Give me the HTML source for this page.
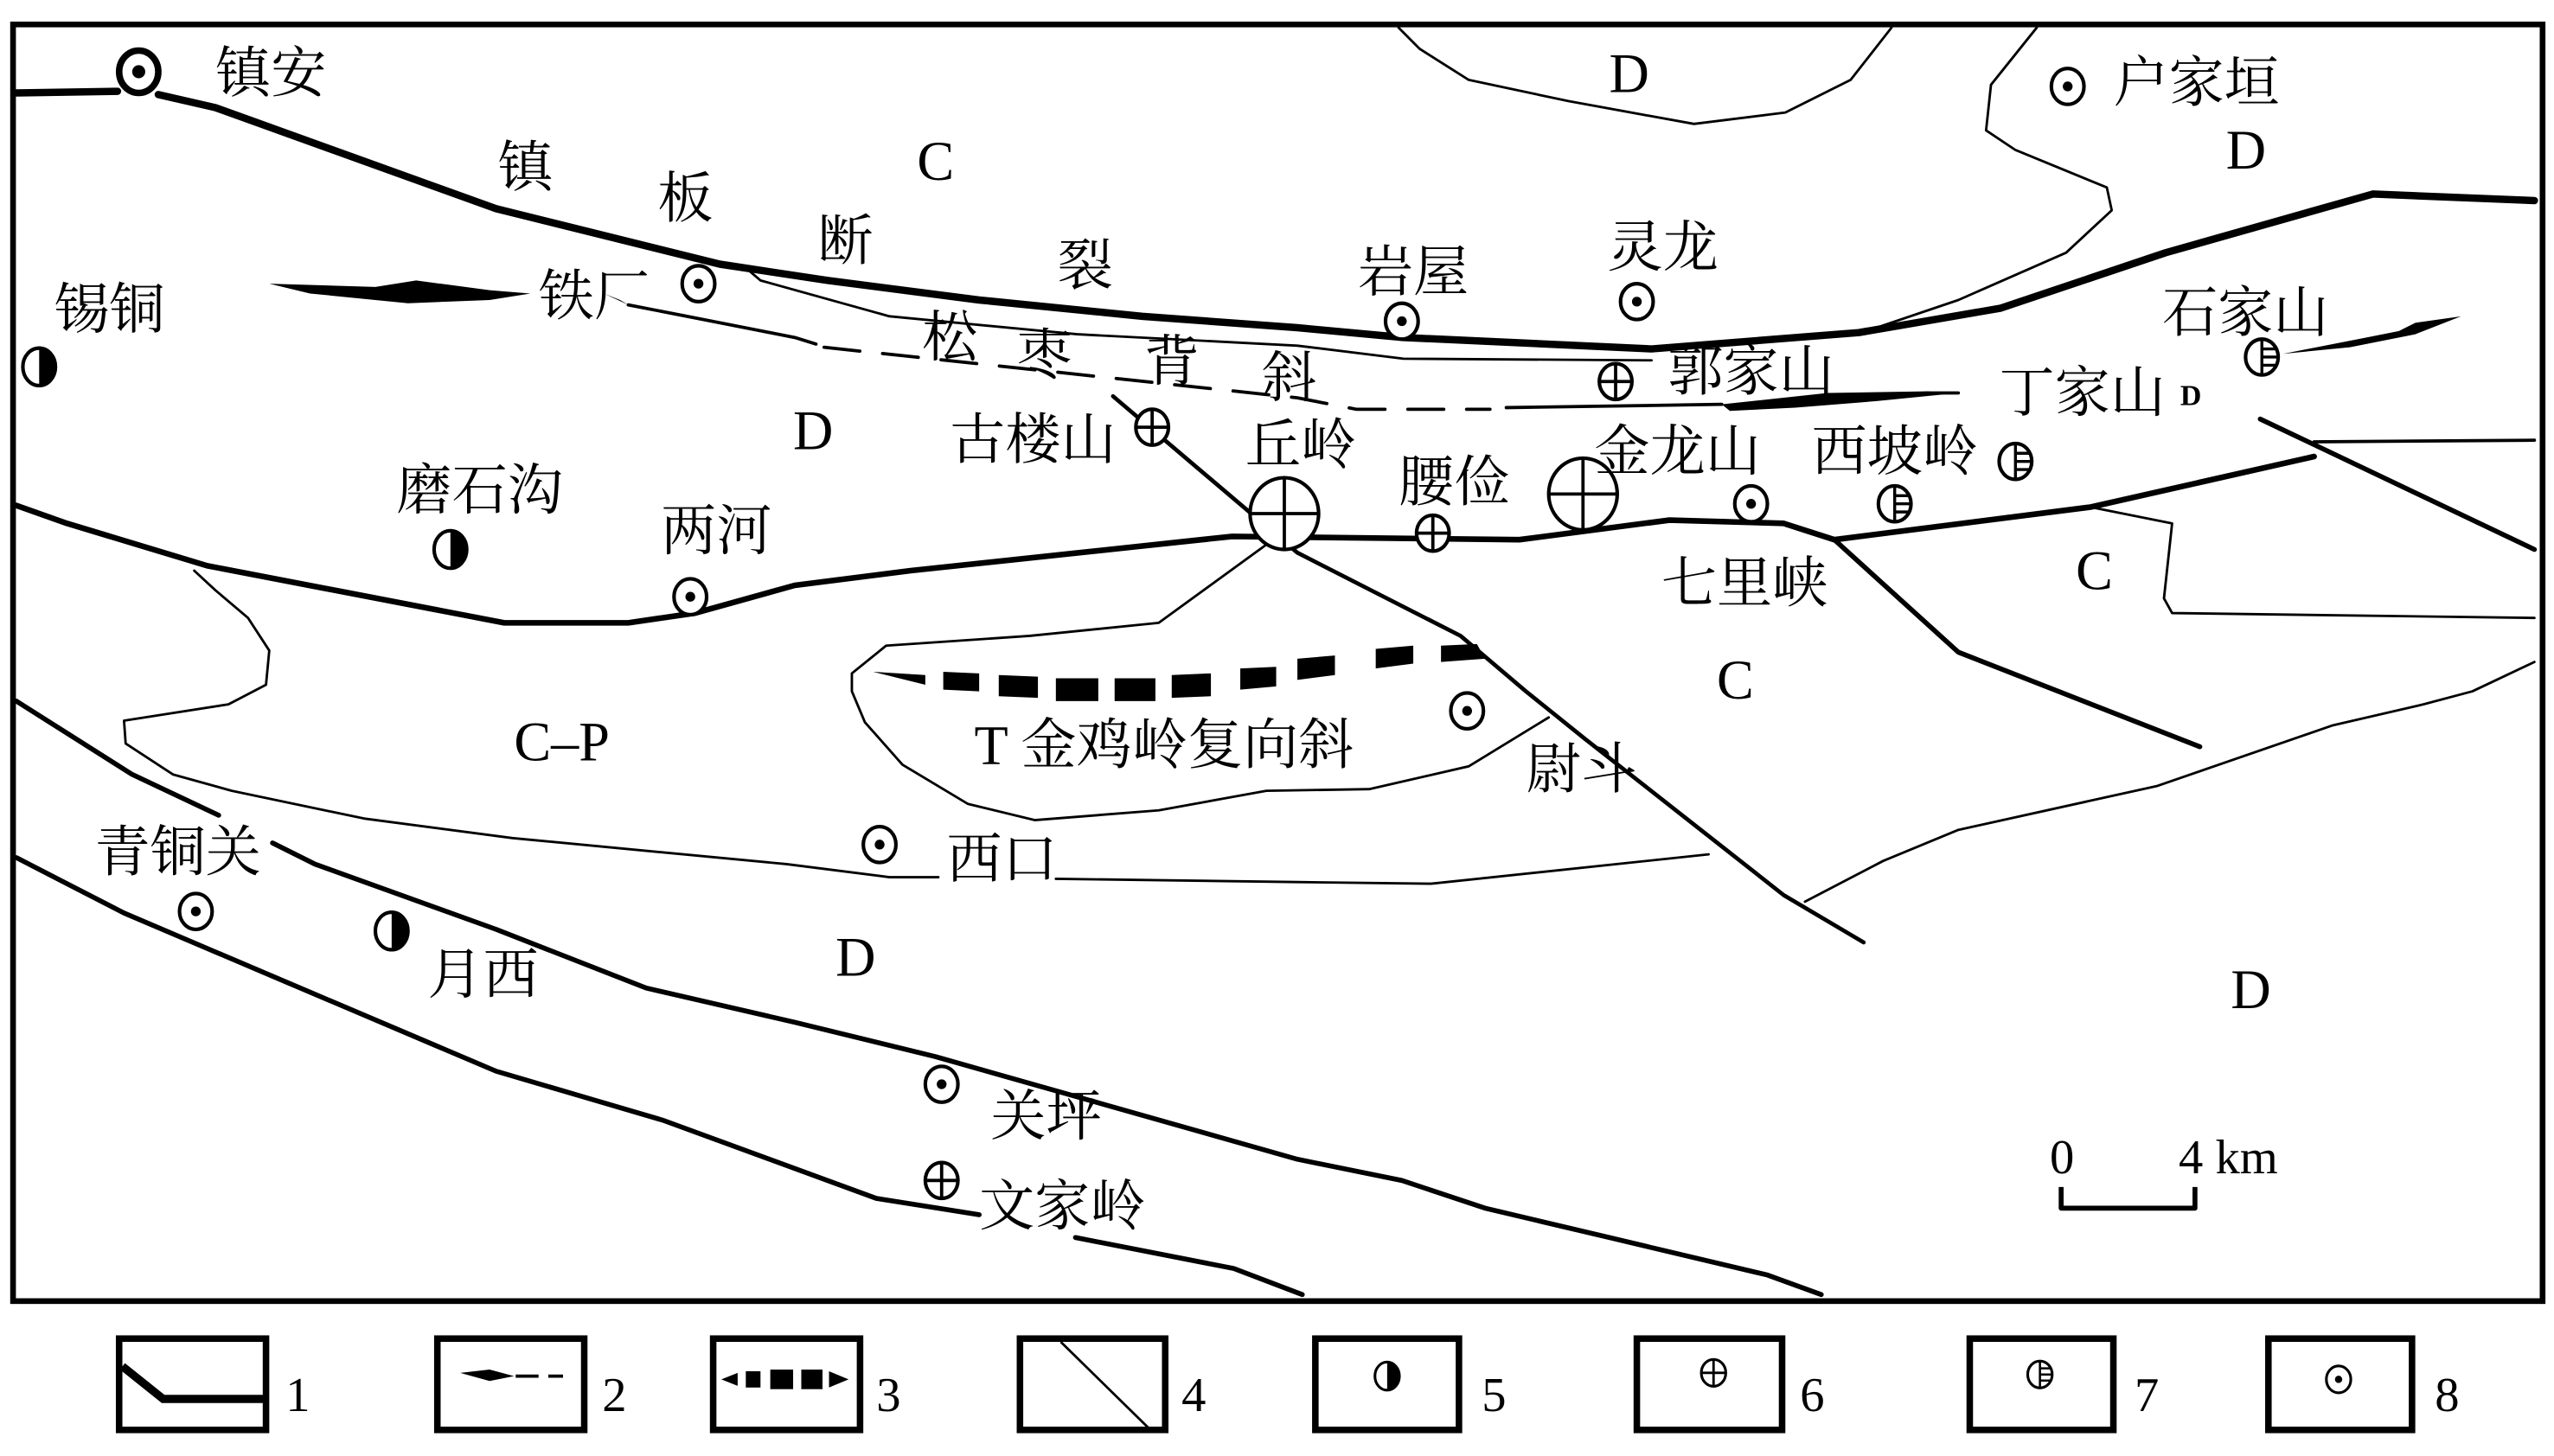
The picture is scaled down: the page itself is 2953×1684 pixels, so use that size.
<!DOCTYPE html>
<html><head><meta charset="utf-8"><style>
html,body{margin:0;padding:0;background:#fff;}
svg{display:block;}
text{font-family:"Liberation Serif","Noto Serif CJK SC",serif;fill:#000;}
</style></head><body>
<svg width="2953" height="1684" viewBox="0 0 1565 893" preserveAspectRatio="none" xmlns="http://www.w3.org/2000/svg">
<defs>
<g id="s8"><ellipse cx="0" cy="0" rx="10" ry="11" fill="#fff" stroke="#000" stroke-width="2.2"/><circle r="3" fill="#000"/></g>
<g id="s5"><ellipse rx="10" ry="11.5" fill="#fff" stroke="#000" stroke-width="2.2"/><path d="M0,-11.5 A10,11.5 0 0 1 0,11.5 Z" fill="#000"/></g>
<g id="s6"><ellipse rx="10" ry="11" fill="#fff" stroke="#000" stroke-width="2.2"/><path d="M-10,0H10M0,-11V11" stroke="#000" stroke-width="2"/></g>
<g id="s7"><ellipse rx="10" ry="11" fill="#fff" stroke="#000" stroke-width="2.2"/><path d="M0,-11V11M0,-5H9M0,0H10M0,5H9" stroke="#000" stroke-width="1.8"/></g>
</defs>
<rect x="8" y="15" width="1550" height="783" fill="#fff" stroke="#000" stroke-width="3.5"/>
<g fill="none" stroke="#000" stroke-linejoin="round" stroke-linecap="round">
<!-- top thin boundaries -->
<path d="M857,17 L870,30 L900,49 L961,62 L1038,76 L1094,69 L1134,49 L1159,17" stroke-width="1.5"/>
<path d="M1248,17 L1220,52 L1217,80 L1235,92 L1291,115 L1294,129 L1266,155 L1200,184 L1141,204" stroke-width="1.5"/>
<!-- main top fault -->
<path d="M10,57 L72,56 M97,58 L132,66 L304,128 L441,162 L507,172 L600,184 L700,194 L795,201 L860,207 L1012,214 L1139,204 L1226,189 L1327,155 L1454,119 L1553,123" stroke-width="4.5"/>
<!-- anticline thin upper -->
<path d="M459,166 L466,172 L545,194 L660,205 L795,212 L860,220 L1012,221" stroke-width="1.5"/>
<!-- anticline lower line -->
<path d="M385,187 L421,194 L487,207 L500,211" stroke-width="2"/>
<path d="M505,213 L795,244 L831,251 L913,251" stroke-width="2" stroke-dasharray="22,14"/>
<path d="M923,250 L1055,248" stroke-width="2"/>
<path d="M1180,241 L1200,241" stroke-width="2"/>
<!-- second thick fault -->
<path d="M10,310 L41,321 L127,347 L309,382 L385,382 L426,376 L487,359 L558,350 L755,329 L931,331 L1023,319 L1093,321 L1124,331 M1124,331 L1281,311 L1418,280" stroke-width="3.5"/>
<path d="M1124,331 L1200,400 L1348,458" stroke-width="3"/>
<path d="M1385,257 L1553,337" stroke-width="3"/>
<path d="M1418,271 L1553,270" stroke-width="2"/>
<path d="M1281,311 L1331,321 L1326,367 L1331,376 L1553,379" stroke-width="1.5"/>
<path d="M1553,406 L1515,424 L1485,432 L1429,445 L1322,482 L1200,509 L1154,528 L1106,553" stroke-width="1.5"/>
<!-- diagonal fault -->
<path d="M682,243 L795,339 L895,390 L935,424 L971,453 L1032,501 L1093,549 L1142,578" stroke-width="2.5"/>
<!-- syncline outline -->
<path d="M800,330 L776,334 L710,382 L631,390 L543,396 L522,413 L522,424 L530,443 L553,469 L593,493 L634,503 L710,497 L776,485 L839,484 L900,470 L949,440" stroke-width="1.5"/>
<!-- C-P boundary -->
<path d="M119,350 L132,362 L152,379 L165,399 L163,420 L140,432 L76,442 L77,456 L106,475 L142,485 L223,502 L314,514 L482,530 L545,538 L575,538 M647,539 L795,541 L877,542 L1047,524" stroke-width="1.5"/>
<!-- lower faults -->
<path d="M10,430 L81,475 L134,500 M167,517 L193,530 L304,570 L396,606 L487,627 L573,648 L795,711 L859,724 L910,741 L986,759 L1083,782 L1116,794" stroke-width="3"/>
<path d="M10,526 L76,560 L177,603 L304,657 L406,687 L537,735 L600,745 M659,759 L756,778 L798,794" stroke-width="3"/>
<!-- scale bar -->
<path d="M1263,728 V741 H1345 V728" stroke-width="3" stroke-linecap="butt"/>
</g>
<!-- lenses -->
<path d="M165,174 L230,176 L255,172 L300,178 L325,180 L300,184 L250,186 L190,180 Z" fill="#000"/>
<path d="M1055,248 L1120,241 L1180,240 L1200,241 L1150,246 L1100,250 L1060,252 Z" fill="#000"/>
<path d="M1399,217 L1450,207 L1470,203 L1480,198 L1508,194 L1480,205 L1440,213 Z" fill="#000"/>
<path d="M385,187 L370,180 L380,184 Z" fill="#000"/>
<!-- syncline dashes -->
<g fill="#000">
<polygon points="535,412 567,414 567,420"/>
<polygon points="578,412 600,413 600,424 578,423"/>
<polygon points="612,414 636,415 636,428 612,427"/>
<polygon points="647,416 673,416 673,430 647,430"/>
<polygon points="683,416 708,416 708,430 683,430"/>
<polygon points="718,414 742,413 742,427 718,428"/>
<polygon points="760,410 782,409 782,421 760,423"/>
<polygon points="795,404 818,402 818,414 795,417"/>
<polygon points="843,398 866,396 866,407 843,410"/>
<polygon points="883,396 905,395 910,404 883,406"/>
</g>
<!-- markers -->
<g><ellipse cx="85" cy="44" rx="12" ry="13" fill="#fff" stroke="#000" stroke-width="4"/><circle cx="85" cy="44" r="4" fill="#000"/></g>
<use href="#s8" x="428" y="174"/><use href="#s8" x="423" y="366"/><use href="#s8" x="859" y="197"/>
<use href="#s8" x="1003" y="185"/><use href="#s8" x="1073" y="309"/><use href="#s8" x="1267" y="53"/>
<use href="#s8" x="899" y="436"/><use href="#s8" x="539" y="518"/><use href="#s8" x="120" y="559"/><use href="#s8" x="577" y="665"/>
<use href="#s5" x="24" y="225"/><use href="#s5" x="276" y="337"/><use href="#s5" x="240" y="571"/>
<use href="#s6" x="706" y="262"/><use href="#s6" x="878" y="327"/><use href="#s6" x="990" y="234"/><use href="#s6" x="577" y="724"/>
<g fill="#fff" stroke="#000" stroke-width="2.2"><ellipse cx="787" cy="315" rx="21" ry="22"/><ellipse cx="970" cy="303" rx="21" ry="22"/></g>
<path d="M766,315H808M787,293V337M949,303H991M970,281V325" stroke="#000" stroke-width="2"/>
<use href="#s7" x="1161" y="309"/><use href="#s7" x="1235" y="283"/><use href="#s7" x="1386" y="219"/>
<!-- labels -->
<g font-size="34" dominant-baseline="central">
<text x="132" y="45">镇安</text>
<text x="305" y="103">镇</text><text x="403" y="122">板</text><text x="501" y="148">断</text><text x="648" y="163">裂</text>
<text x="562" y="99">C</text><text x="986" y="45">D</text><text x="1295" y="51">户家垣</text><text x="1364" y="92">D</text>
<text x="985" y="152">灵龙</text><text x="832" y="167">岩屋</text><text x="1325" y="192">石家山</text>
<text x="33" y="190">锡铜</text><text x="330" y="182">铁厂</text>
<text x="565" y="207">松</text><text x="623" y="218">枣</text><text x="701" y="222">背</text><text x="773" y="232">斜</text>
<text x="1022" y="228">郭家山</text><text x="1225" y="241">丁家山</text>
<text x="1336" y="243" font-size="18" font-weight="bold">D</text>
<text x="486" y="264">D</text><text x="582" y="270">古楼山</text><text x="763" y="273">丘岭</text>
<text x="977" y="277">金龙山</text><text x="1110" y="277">西坡岭</text><text x="857" y="296">腰俭</text>
<text x="243" y="301">磨石沟</text><text x="405" y="326">两河</text><text x="1018" y="358">七里峡</text>
<text x="1272" y="350">C</text><text x="1052" y="417">C</text><text x="315" y="455">C–P</text>
<text x="597" y="457">T 金鸡岭复向斜</text><text x="935" y="472">尉斗</text><text x="580" y="527">西口</text>
<text x="58" y="523">青铜关</text><text x="262" y="598">月西</text><text x="512" y="587">D</text><text x="1367" y="607">D</text>
<text x="607" y="685">关坪</text><text x="600" y="740">文家岭</text>
<text x="1256" y="710" font-size="30">0</text><text x="1335" y="710" font-size="30">4 km</text>
</g>
<!-- legend -->
<g fill="none" stroke="#000" stroke-width="4">
<rect x="73" y="821" width="90" height="56"/><rect x="268" y="821" width="90" height="56"/>
<rect x="437" y="821" width="90" height="56"/><rect x="625" y="821" width="89" height="56"/>
<rect x="806" y="821" width="88" height="56"/><rect x="1003" y="821" width="89" height="56"/>
<rect x="1207" y="821" width="88" height="56"/><rect x="1390" y="821" width="88" height="56"/>
</g>
<path d="M75,838 L100,858 L163,858" fill="none" stroke="#000" stroke-width="5"/>
<path d="M282,842 L300,840 L315,844 L300,847 Z" fill="#000"/><path d="M316,844H330M336,844H345" stroke="#000" stroke-width="2"/>
<g fill="#000"><polygon points="442,846 452,842 452,850"/><rect x="457" y="841" width="9" height="10"/><rect x="472" y="840" width="14" height="12"/><rect x="491" y="840" width="13" height="12"/><polygon points="508,841 520,846 508,851"/></g>
<path d="M650,823 L705,877" stroke="#000" stroke-width="1.5"/>
<g transform="translate(850,844) scale(0.75)"><use href="#s5"/></g>
<g transform="translate(1050,842) scale(0.75)"><use href="#s6"/></g>
<g transform="translate(1250,843) scale(0.75)"><use href="#s7"/></g>
<g transform="translate(1433,846) scale(0.75)"><use href="#s8"/></g>
<g font-size="30" dominant-baseline="central">
<text x="175" y="856">1</text><text x="369" y="856">2</text><text x="537" y="856">3</text><text x="724" y="856">4</text>
<text x="908" y="856">5</text><text x="1103" y="856">6</text><text x="1308" y="856">7</text><text x="1492" y="856">8</text>
</g>
</svg>
</body></html>
